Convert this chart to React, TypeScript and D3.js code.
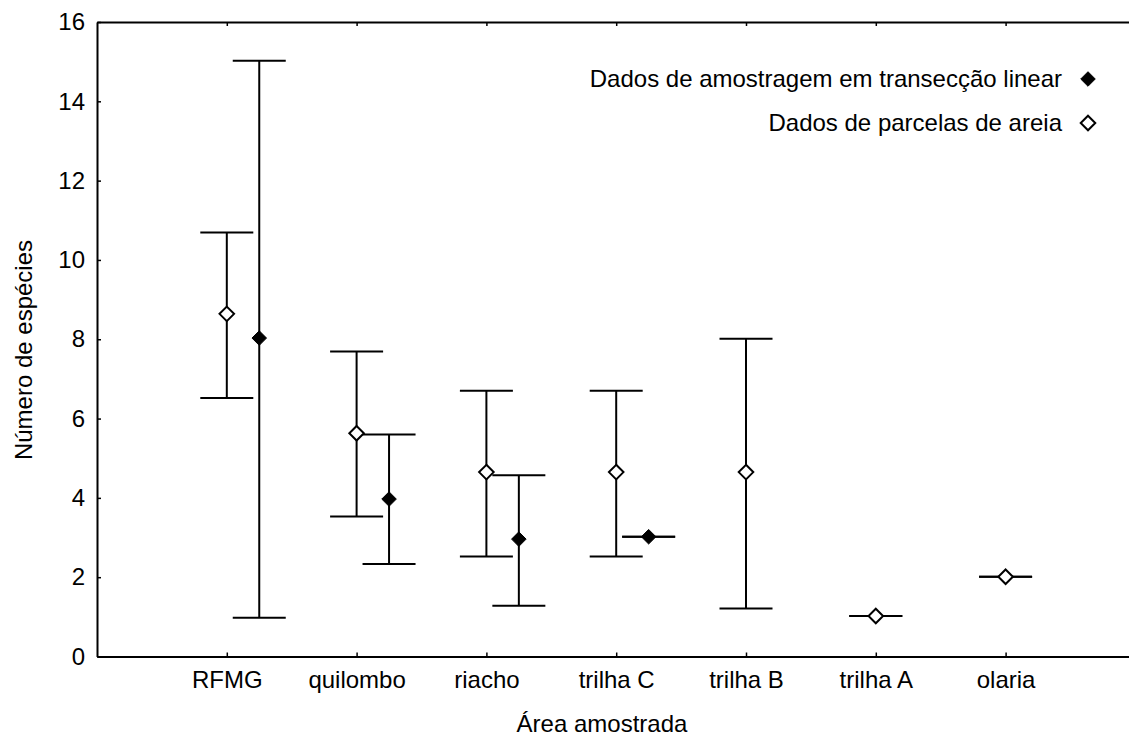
import { useEffect, useRef } from 'react'
import * as d3 from 'd3'

const categories = ['RFMG', 'quilombo', 'riacho', 'trilha C', 'trilha B', 'trilha A', 'olaria']

// Dados de parcelas de areia (open diamonds)
const parcelasMean = [8.64, 5.63, 4.65, 4.65, 4.65, 1.02, 2.01]
const parcelasLow = [6.52, 3.53, 2.52, 2.52, 1.21, 1.02, 2.01]
const parcelasHigh = [10.69, 7.69, 6.7, 6.7, 8.01, 1.02, 2.01]

// Dados de amostragem em transecção linear (filled diamonds)
const transMean = [8.03, 3.97, 2.96, 3.02]
const transLow = [0.98, 2.33, 1.28, 3.02]
const transHigh = [15.02, 5.6, 4.57, 3.02]

const yTicks = [0, 2, 4, 6, 8, 10, 12, 14, 16]

const FONT = '"Liberation Sans", Arial, sans-serif'
const FS = '24px'

export default function App() {
  const svgRef = useRef<SVGSVGElement>(null)

  useEffect(() => {
    if (!svgRef.current) return
    const svg = d3.select(svgRef.current)
    svg.selectAll('*').remove()

    const width = 1129
    const height = 740
    const left = 97
    const step = 129.8
    const top = 22
    const bottom = 656.5

    const x = d3.scaleLinear().domain([0, 8]).range([left, left + 8 * step])
    const y = d3.scaleLinear().domain([0, 16]).range([bottom, top])
    const offset = 0.25
    const capHalf = 26.5

    svg.attr('width', width).attr('height', height)

    const styleAxis = (g: any) => {
      g.select('.domain').attr('stroke', '#000').attr('stroke-width', 2)
      g.selectAll('.tick line').attr('stroke', '#000').attr('stroke-width', 1.5)
      g.selectAll('.tick text')
        .attr('fill', '#000')
        .style('font-family', FONT)
        .style('font-size', FS)
    }

    // left axis
    svg.append('g')
      .attr('transform', `translate(${left},0)`)
      .call(d3.axisLeft(y).tickValues(yTicks).tickSizeInner(-4).tickSizeOuter(0).tickPadding(12).tickFormat(d3.format('d')))
      .call(styleAxis)

    const catTicks = categories.map((_, i) => i + 1)

    // bottom axis
    svg.append('g')
      .attr('transform', `translate(0,${bottom})`)
      .call(d3.axisBottom(x).tickValues(catTicks).tickSizeInner(-4).tickSizeOuter(0).tickPadding(14)
        .tickFormat((d: any) => categories[d - 1]))
      .call(styleAxis)

    // top axis
    svg.append('g')
      .attr('transform', `translate(0,${top})`)
      .call(d3.axisTop(x).tickValues(catTicks).tickSizeInner(-4).tickSizeOuter(0).tickFormat(() => ''))
      .call(styleAxis)

    // axis titles
    svg.append('text')
      .attr('x', 602)
      .attr('y', 732)
      .attr('text-anchor', 'middle')
      .style('font-family', FONT)
      .style('font-size', FS)
      .text('Área amostrada')

    svg.append('text')
      .attr('transform', 'translate(32,350) rotate(-90)')
      .attr('text-anchor', 'middle')
      .style('font-family', FONT)
      .style('font-size', FS)
      .text('Número de espécies')

    const bars = svg.append('g').attr('stroke', '#000').attr('stroke-width', 2)
    const marks = svg.append('g')
    const diamond = d3.symbol().type(d3.symbolDiamond2).size(135)

    const drawBar = (cx: number, lo: number, hi: number) => {
      bars.append('line').attr('x1', cx).attr('x2', cx).attr('y1', y(lo)).attr('y2', y(hi))
      bars.append('line').attr('x1', cx - capHalf).attr('x2', cx + capHalf).attr('y1', y(lo)).attr('y2', y(lo))
      bars.append('line').attr('x1', cx - capHalf).attr('x2', cx + capHalf).attr('y1', y(hi)).attr('y2', y(hi))
    }

    parcelasMean.forEach((_, i) => drawBar(x(i + 1), parcelasLow[i], parcelasHigh[i]))
    transMean.forEach((_, i) => drawBar(x(i + 1 + offset), transLow[i], transHigh[i]))

    parcelasMean.forEach((m, i) => {
      marks.append('path')
        .attr('d', diamond)
        .attr('transform', `translate(${x(i + 1)},${y(m)})`)
        .attr('fill', '#fff')
        .attr('stroke', '#000')
        .attr('stroke-width', 2)
    })
    transMean.forEach((m, i) => {
      marks.append('path')
        .attr('d', diamond)
        .attr('transform', `translate(${x(i + 1 + offset)},${y(m)})`)
        .attr('fill', '#000')
        .attr('stroke', '#000')
        .attr('stroke-width', 1)
    })

    // legend
    const legend = [
      { label: 'Dados de amostragem em transecção linear', fill: '#000', y: 79 },
      { label: 'Dados de parcelas de areia', fill: '#fff', y: 123 },
    ]
    legend.forEach((l) => {
      svg.append('text')
        .attr('x', 1062)
        .attr('y', l.y)
        .attr('dy', '0.32em')
        .attr('text-anchor', 'end')
        .style('font-family', FONT)
        .style('font-size', FS)
        .text(l.label)
      svg.append('path')
        .attr('d', diamond)
        .attr('transform', `translate(1088,${l.y})`)
        .attr('fill', l.fill)
        .attr('stroke', '#000')
        .attr('stroke-width', l.fill === '#000' ? 1 : 2)
    })
  }, [])

  return (
    <svg
      ref={svgRef}
      style={{ position: 'absolute', left: 0, top: 0, background: '#fff', display: 'block' }}
    />
  )
}
